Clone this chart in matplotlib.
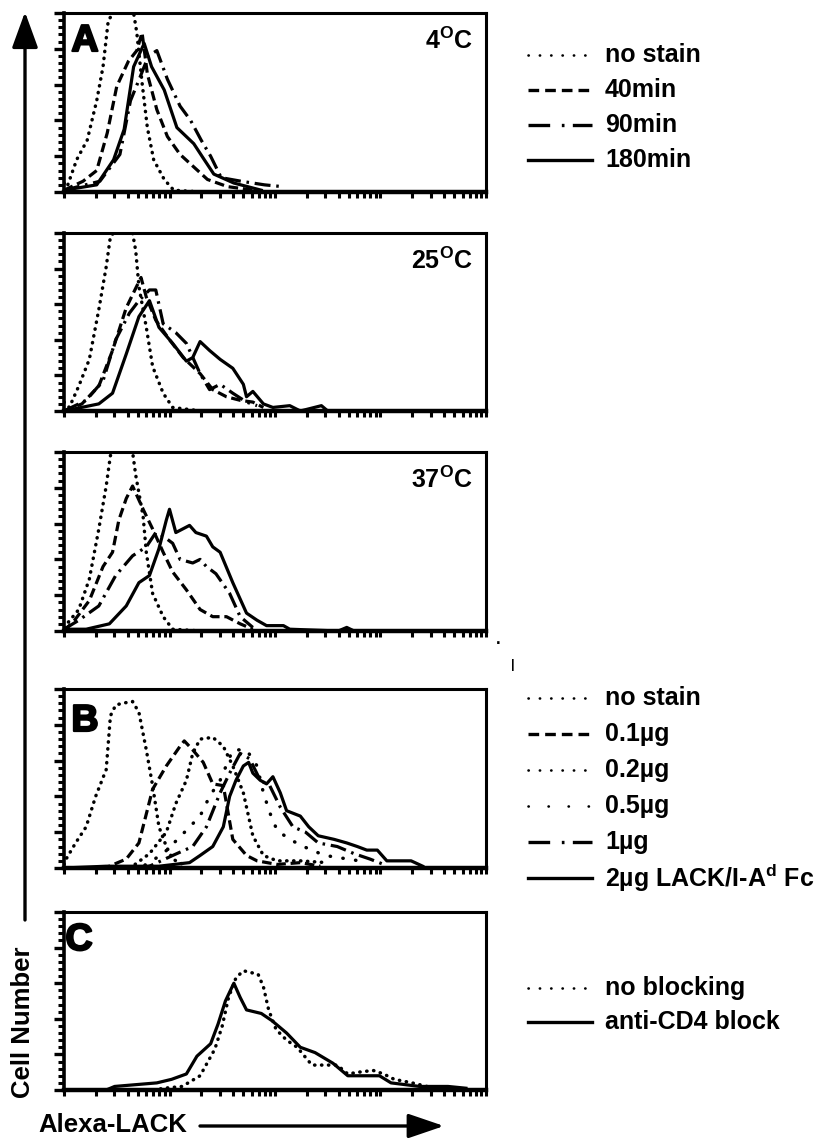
import matplotlib
matplotlib.use('Agg')
import matplotlib.pyplot as plt
import matplotlib.patheffects as pe
from matplotlib.lines import Line2D
from matplotlib.patches import FancyArrowPatch
from matplotlib.ticker import LogLocator, MultipleLocator, NullFormatter

plt.rcParams['font.family'] = ['Liberation Sans', 'DejaVu Sans']
plt.rcParams['font.weight'] = 'bold'
plt.rcParams['mathtext.fontset'] = 'custom'
plt.rcParams['mathtext.rm'] = 'Liberation Sans:bold'
plt.rcParams['mathtext.bf'] = 'Liberation Sans:bold'
plt.rcParams['mathtext.it'] = 'Liberation Sans:bold'

# histogram outlines: (log10 fluorescence, relative cell number)
# panel A, 4 C
a4_nostain = [(0, .05), (.03, .03), (.12, .18), (.22, .29), (.31, .51), (.37, .70), (.42, .96),
              (.47, 1.0), (.66, 1.0), (.69, .89), (.74, .61), (.79, .36), (.85, .18),
              (.95, .07), (1.04, .01), (1.3, 0)]
a4_40 = [(0, .01), (.18, .06), (.31, .12), (.41, .33), (.50, .59), (.61, .73), (.69, .79),
         (.74, .89), (.79, .66), (.88, .46), (.98, .31), (1.10, .21), (1.23, .14),
         (1.36, .07), (1.55, .03), (1.80, .01)]
a4_90 = [(0, .01), (.34, .06), (.53, .21), (.63, .51), (.72, .64), (.80, .76), (.88, .79),
         (.98, .63), (1.10, .48), (1.20, .40), (1.30, .29), (1.39, .20), (1.49, .08),
         (1.68, .06), (1.90, .04), (2.07, .03)]
a4_180 = [(0, .01), (.31, .04), (.47, .18), (.57, .35), (.66, .70), (.76, .83), (.83, .70),
          (.95, .57), (1.07, .36), (1.23, .27), (1.33, .18), (1.42, .10), (1.61, .05),
          (1.87, .01)]

# panel A, 25 C
a25_nostain = [(0, .05), (.05, .02), (.14, .14), (.24, .29), (.33, .57), (.40, .81), (.44, .98),
               (.47, 1.0), (.65, 1.0), (.68, .90), (.71, .70), (.78, .47), (.84, .25),
               (.94, .10), (1.03, .02), (1.3, 0)]
a25_40 = [(0, 0), (.17, .04), (.33, .14), (.46, .34), (.59, .58), (.68, .69), (.73, .75),
          (.78, .64), (.87, .51), (1.0, .40), (1.13, .30), (1.29, .21), (1.41, .12),
          (1.54, .08), (1.67, .06), (1.79, .05), (1.89, .02)]
a25_90 = [(0, 0), (.21, .06), (.37, .17), (.49, .40), (.62, .55), (.71, .62), (.81, .68),
          (.87, .68), (.94, .49), (1.06, .44), (1.16, .38), (1.29, .21), (1.38, .12),
          (1.48, .15), (1.60, .10), (1.73, .05), (1.83, .03)]
a25_180 = [(0, 0), (.33, .04), (.46, .10), (.59, .32), (.71, .53), (.81, .62), (.90, .47),
           (1.03, .38), (1.16, .28), (1.22, .30), (1.29, .39), (1.38, .34), (1.48, .29),
           (1.60, .24), (1.70, .15), (1.73, .08), (1.79, .11), (1.89, .04), (1.98, .02),
           (2.14, .03), (2.24, 0), (2.44, .03), (2.50, 0)]

# panel A, 37 C
a37_nostain = [(0, .02), (.14, .12), (.24, .29), (.33, .57), (.40, .81), (.44, .98), (.47, 1.0),
               (.65, 1.0), (.68, .87), (.75, .64), (.78, .44), (.84, .21), (.94, .08),
               (1.03, .01), (1.3, 0)]
a37_40 = [(0, 0), (.10, .06), (.24, .17), (.37, .36), (.46, .44), (.52, .62), (.59, .74),
          (.65, .81), (.75, .68), (.84, .57), (.94, .44), (1.03, .33), (1.16, .23),
          (1.29, .12), (1.41, .08), (1.54, .08), (1.67, .04), (1.79, .01)]
a37_90 = [(0, .01), (.14, .06), (.33, .14), (.49, .31), (.65, .42), (.78, .47), (.87, .55),
          (.94, .53), (1.03, .49), (1.10, .40), (1.22, .38), (1.29, .40), (1.35, .36),
          (1.44, .32), (1.57, .21), (1.67, .08), (1.79, .02)]
a37_180 = [(0, .01), (.21, .01), (.43, .04), (.59, .14), (.71, .27), (.81, .31), (.90, .46),
           (.97, .62), (1.0, .68), (1.06, .55), (1.19, .59), (1.25, .55), (1.35, .53),
           (1.41, .47), (1.48, .44), (1.60, .27), (1.73, .10), (1.83, .06), (1.92, .03),
           (2.08, .03), (2.14, .01), (2.60, 0), (2.68, .02), (2.75, 0)]

# panel B, dose titration
b_nostain = [(0, .02), (.02, .05), (.11, .14), (.21, .23), (.30, .40), (.40, .55), (.44, .85),
             (.49, .91), (.55, .92), (.65, .93), (.71, .87), (.78, .66), (.84, .46),
             (.90, .23), (.97, .12), (1.03, .05), (1.16, .01)]
b_01 = [(.35, 0), (.43, .01), (.59, .05), (.71, .14), (.84, .44), (.97, .57), (1.10, .68),
        (1.14, .71), (1.22, .66), (1.32, .59), (1.41, .47), (1.51, .46), (1.60, .16),
        (1.73, .07), (1.83, .04), (2.02, .02), (2.24, .03), (2.43, .01)]
b_02 = [(.55, 0), (.65, .01), (.81, .08), (.97, .20), (1.06, .36), (1.16, .49), (1.22, .64),
        (1.29, .72), (1.41, .73), (1.51, .68), (1.60, .57), (1.70, .42), (1.79, .18),
        (1.89, .07), (2.02, .04), (2.24, .04), (2.49, .03)]
b_05 = [(.65, 0), (.75, .01), (.94, .08), (1.11, .18), (1.29, .29), (1.38, .40), (1.48, .49),
        (1.60, .66), (1.73, .66), (1.83, .57), (1.89, .42), (1.95, .31), (2.02, .21),
        (2.14, .16), (2.27, .12), (2.43, .08), (2.56, .06), (2.71, .05), (2.87, .03)]
b_1 = [(.70, 0), (.81, .01), (1.03, .07), (1.22, .12), (1.35, .23), (1.48, .42), (1.57, .53),
       (1.67, .64), (1.76, .61), (1.86, .49), (1.95, .46), (2.05, .34), (2.17, .23),
       (2.29, .20), (2.41, .14), (2.59, .12), (2.75, .08), (2.90, .05), (3.03, .02)]
b_2 = [(0, 0), (.40, .01), (.90, .01), (1.19, .03), (1.29, .07), (1.41, .12), (1.51, .23),
       (1.57, .40), (1.63, .49), (1.70, .57), (1.75, .59), (1.79, .53), (1.86, .49),
       (1.92, .47), (1.98, .51), (2.05, .42), (2.11, .32), (2.24, .29), (2.32, .23),
       (2.41, .18), (2.56, .16), (2.68, .14), (2.78, .12), (2.87, .10), (2.97, .10),
       (3.06, .04), (3.29, .04), (3.40, .01)]

# panel C, CD4 blocking
c_noblock = [(.85, 0), (.95, .01), (1.12, .02), (1.29, .08), (1.43, .23), (1.50, .36),
             (1.56, .52), (1.63, .63), (1.70, .67), (1.84, .65), (1.89, .58), (1.94, .45),
             (2.01, .34), (2.11, .28), (2.21, .24), (2.35, .14), (2.45, .14), (2.59, .14),
             (2.69, .09), (2.79, .10), (2.93, .11), (3.03, .09), (3.13, .06), (3.30, .04),
             (3.44, .02)]
c_cd4 = [(.40, 0), (.48, .02), (.68, .03), (.88, .04), (1.02, .06), (1.16, .09), (1.26, .19),
         (1.39, .26), (1.46, .37), (1.53, .50), (1.61, .60), (1.67, .52), (1.73, .45),
         (1.87, .43), (1.97, .39), (2.11, .32), (2.24, .24), (2.38, .21), (2.55, .15),
         (2.69, .08), (2.82, .08), (2.99, .08), (3.10, .04), (3.37, .02), (3.64, .02),
         (3.81, .01)]

temps = ['4$^{\\mathbf{O}}$C', '25$^{\\mathbf{O}}$C', '37$^{\\mathbf{O}}$C']
legend_a = ['no stain', '40min', '90min', '180min']
legend_b = ['no stain', '0.1\u00b5g', '0.2\u00b5g', '0.5\u00b5g', '1\u00b5g',
            '2\u00b5g LACK/I-A$^{\\mathbf{d}}$ Fc']
legend_c = ['no blocking', 'anti-CD4 block']

# line patterns for the histogram curves
DOT = (0, (0.1, 1.9))
SPARSE = (0, (0.1, 3.6))
DASH = (0, (3.0, 1.5))
DASHDOT = (0, (5.0, 1.8, 0.8, 1.8))
SOLID = '-'
# patterns for the legend keys (drawn thinner)
KEY_STYLE = {DOT: (0, (0.1, 4.2)), SPARSE: (0, (0.1, 7.5)), DASH: (0, (3.2, 1.8)),
             DASHDOT: (0, (6.5, 3.5, 0.8, 2.5)), SOLID: '-'}

W, H = 840, 1140
fig = plt.figure(figsize=(W / 100, H / 100), dpi=100)


def fx(x):
    return x / W


def fy(y):
    return 1 - y / H


def panel(top, bottom):
    ax = fig.add_axes([fx(64), fy(bottom), (486 - 64) / W, (bottom - top) / H])
    ax.set_xscale('log')
    ax.set_xlim(1, 1e4)
    ax.set_ylim(0, 1.0)
    ax.xaxis.set_major_locator(LogLocator(base=10, numticks=10))
    ax.xaxis.set_minor_locator(LogLocator(base=10, subs=range(2, 10), numticks=100))
    ax.xaxis.set_major_formatter(NullFormatter())
    ax.xaxis.set_minor_formatter(NullFormatter())
    ax.yaxis.set_major_locator(MultipleLocator(0.2))
    ax.yaxis.set_minor_locator(MultipleLocator(0.04))
    ax.yaxis.set_major_formatter(NullFormatter())
    ax.tick_params(axis='x', which='both', direction='out', length=4.5, width=2.2)
    ax.tick_params(axis='y', which='major', direction='out', length=7, width=2.4)
    ax.tick_params(axis='y', which='minor', direction='out', length=4.5, width=2.2)
    ax.spines['bottom'].set_linewidth(3.2)
    ax.spines['left'].set_linewidth(2.6)
    ax.spines['top'].set_linewidth(2.2)
    ax.spines['right'].set_linewidth(2.2)
    return ax


def hist(ax, pts, ls):
    x = [10 ** p[0] for p in pts]
    h = [p[1] for p in pts]
    dotted = ls in (DOT, SPARSE)
    ax.plot(x, h, color='black', lw=2.5 if dotted else 2.3, linestyle=ls,
            dash_capstyle='round' if dotted else 'butt')


def key(y, ls, label):
    dotted = ls in (DOT, SPARSE)
    fig.add_artist(Line2D([fx(528), fx(592)], [fy(y), fy(y)], transform=fig.transFigure,
                          color='black', lw=1.9 if dotted else 2.4, linestyle=KEY_STYLE[ls],
                          dash_capstyle='round' if dotted else 'butt'))
    fig.text(fx(605), fy(y), label, fontsize=18, fontweight='bold', va='center', ha='left')


def letter(s, x, y):
    fig.text(fx(x), fy(y), s, fontsize=27, fontweight='bold', va='center', ha='center',
             path_effects=[pe.Stroke(linewidth=1.6, foreground='black'), pe.Normal()])


tops = [13, 233, 452, 689, 912]
bottoms = [192, 411, 631, 868, 1090]

# A panels
a_sets = [(a4_nostain, a4_40, a4_90, a4_180),
          (a25_nostain, a25_40, a25_90, a25_180),
          (a37_nostain, a37_40, a37_90, a37_180)]
for i, curves in enumerate(a_sets):
    ax = panel(tops[i], bottoms[i])
    for pts, ls in zip(curves, [DOT, DASH, DASHDOT, SOLID]):
        hist(ax, pts, ls)
    fig.text(fx(473), fy(tops[i] + 28), temps[i], fontsize=18, fontweight='bold',
             ha='right', va='center')
letter('A', 85, 41)

# B panel
axb = panel(tops[3], bottoms[3])
for pts, ls in zip([b_nostain, b_01, b_02, b_05, b_1, b_2],
                   [DOT, DASH, DOT, SPARSE, DASHDOT, SOLID]):
    hist(axb, pts, ls)
letter('B', 85, 721)

# C panel
axc = panel(tops[4], bottoms[4])
hist(axc, c_noblock, DOT)
hist(axc, c_cd4, SOLID)
letter('C', 79, 940)

# legends
for j, (lab, ls) in enumerate(zip(legend_a, [DOT, DASH, DASHDOT, SOLID])):
    key(55 + 35 * j, ls, lab)
for j, (lab, ls) in enumerate(zip(legend_b, [DOT, DASH, DOT, SPARSE, DASHDOT, SOLID])):
    key(698 + 36 * j, ls, lab)
for j, (lab, ls) in enumerate(zip(legend_c, [DOT, SOLID])):
    key(988 + 34 * j, ls, lab)

# axis arrows and titles
fig.add_artist(FancyArrowPatch((fx(25), fy(920)), (fx(25), fy(12)), transform=fig.transFigure,
                               arrowstyle='-|>,head_length=22,head_width=8', mutation_scale=1,
                               color='black', lw=2.4, shrinkA=0, shrinkB=0))
fig.add_artist(FancyArrowPatch((fx(200), fy(1126)), (fx(444), fy(1126)), transform=fig.transFigure,
                               arrowstyle='-|>,head_length=22,head_width=7.5', mutation_scale=1,
                               color='black', lw=2.4, shrinkA=0, shrinkB=0))
fig.text(fx(23), fy(1022), 'Cell Number', rotation=90, fontsize=18.5, fontweight='bold',
         ha='center', va='center')
fig.text(fx(38), fy(1125), 'Alexa-LACK', fontsize=18.5, fontweight='bold',
         ha='left', va='center')

# small specks present in the scan
fig.text(fx(498), fy(640), '.', fontsize=12, ha='center', va='center')
fig.text(fx(513), fy(665), '|', fontsize=9, ha='center', va='center')

fig.savefig('out.png', dpi=100)
